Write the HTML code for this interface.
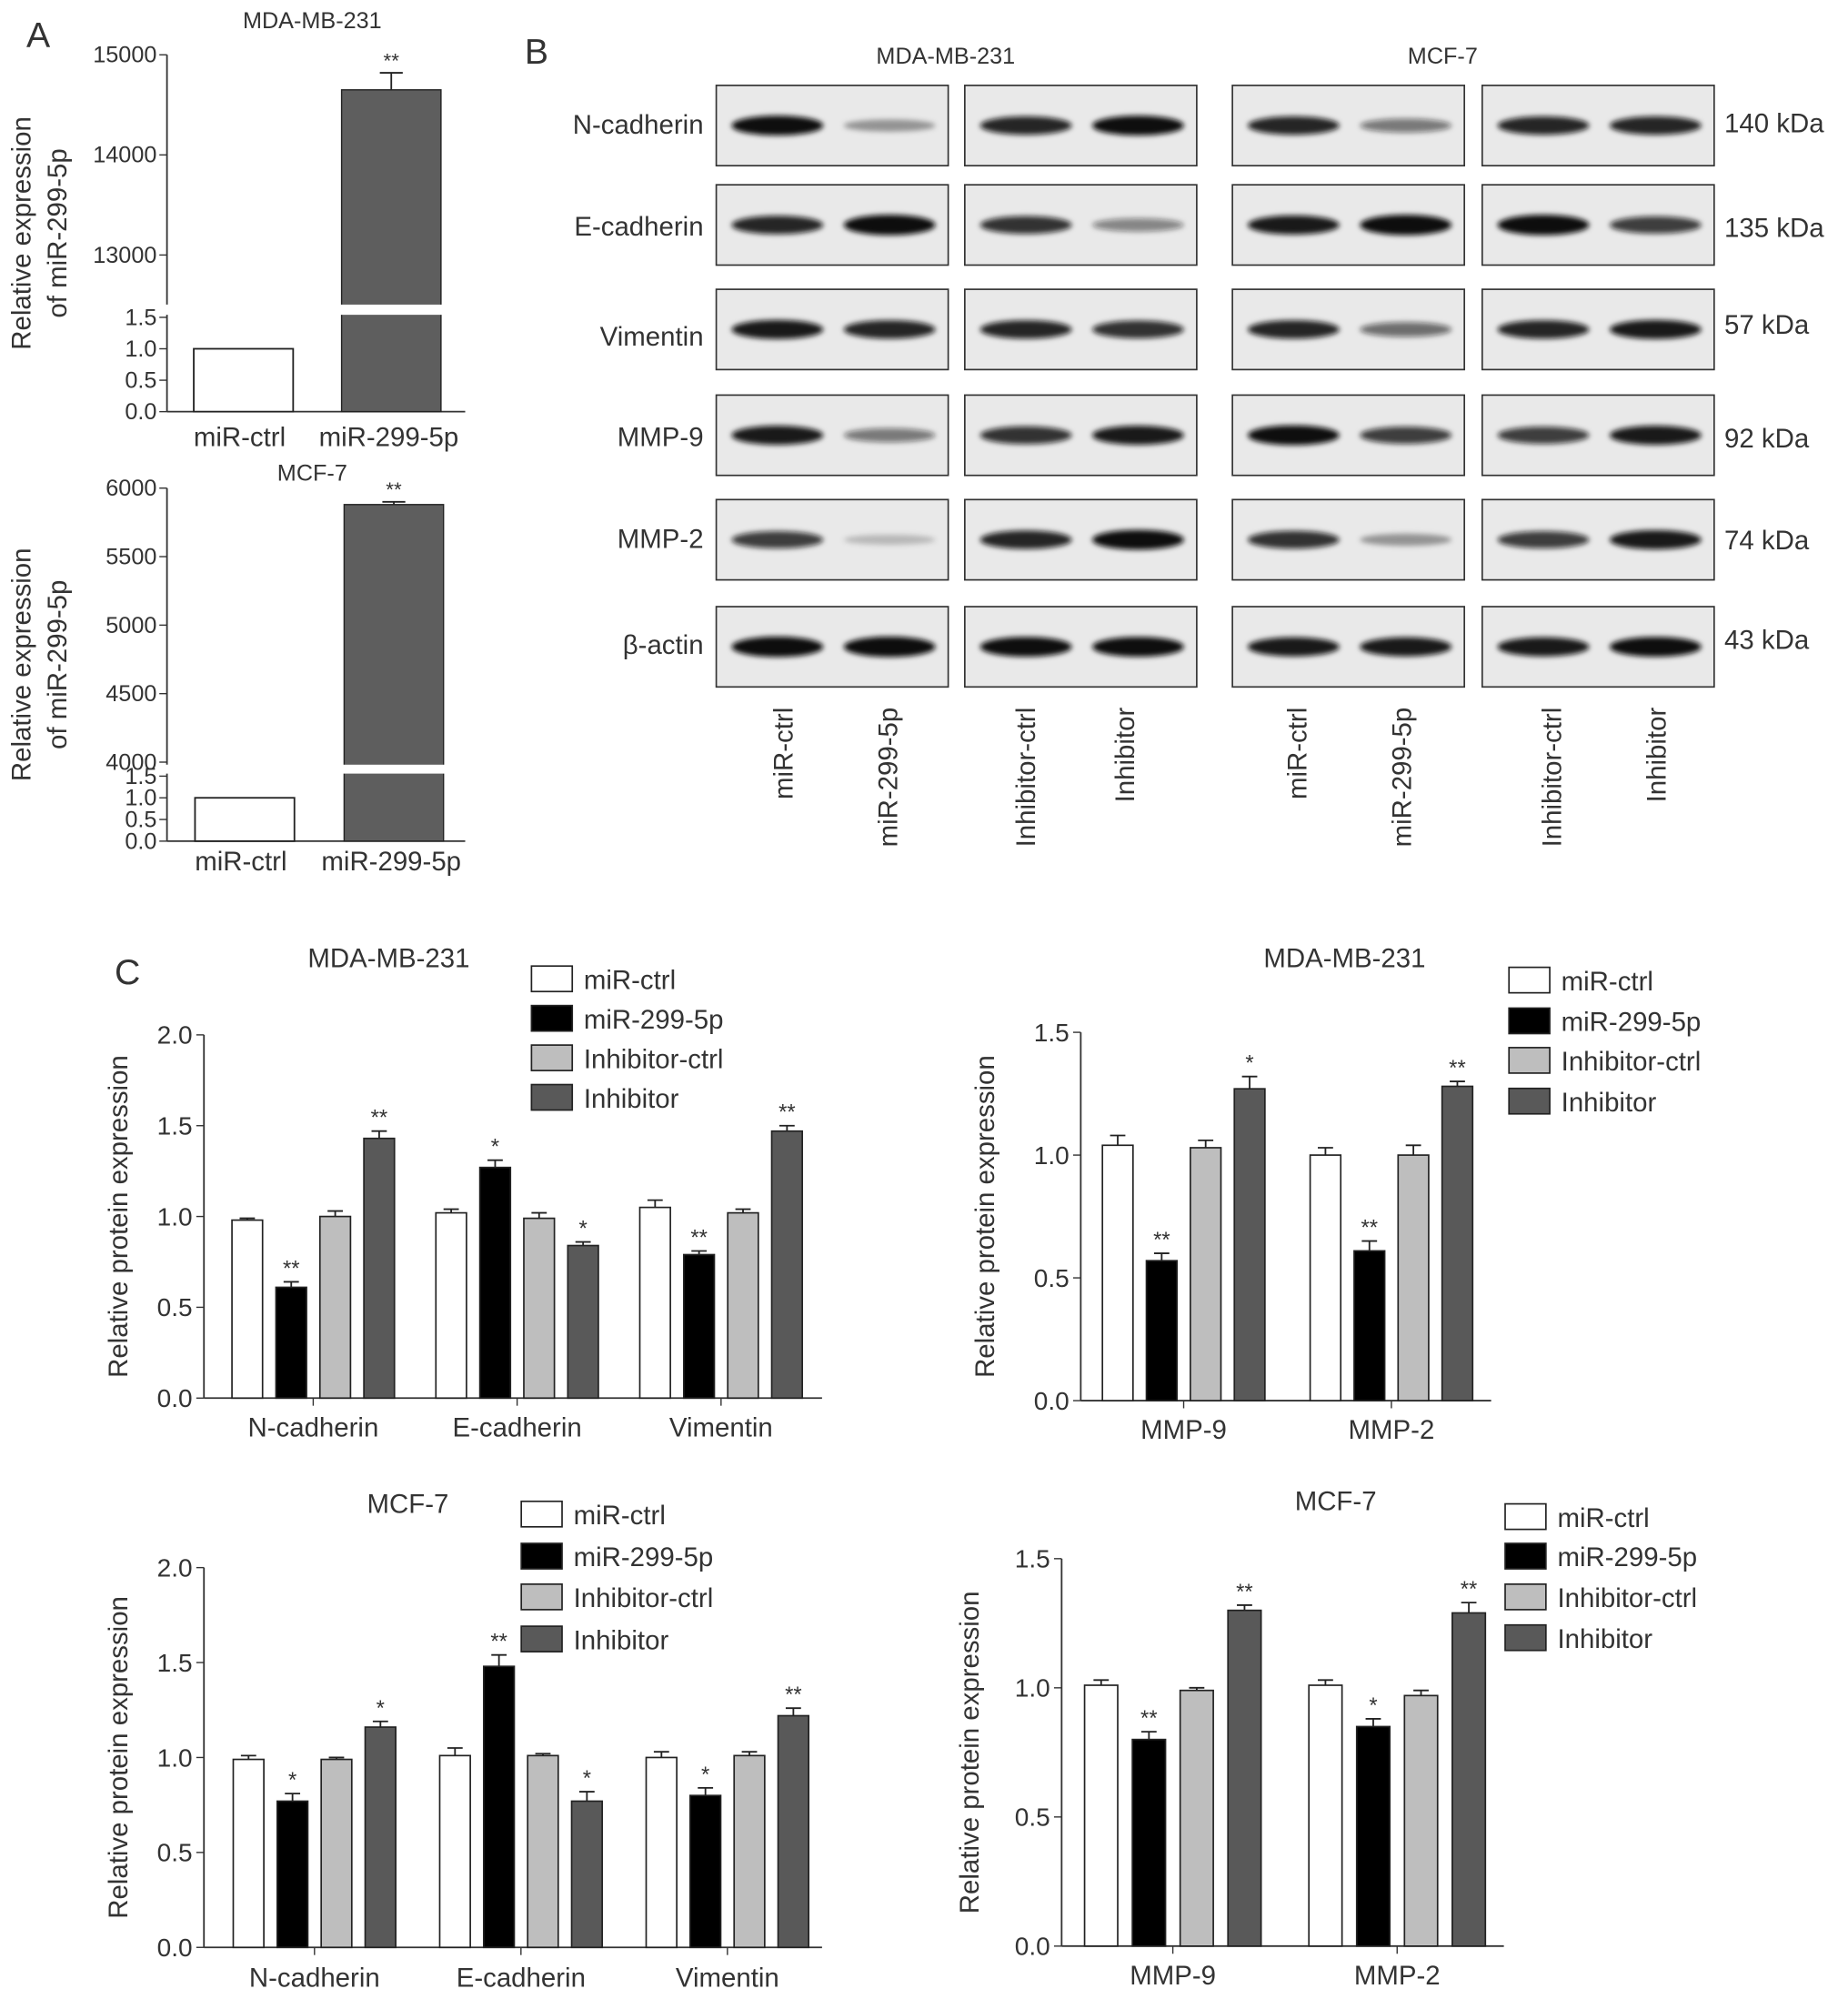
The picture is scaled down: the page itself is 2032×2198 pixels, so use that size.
<!DOCTYPE html>
<html><head><meta charset="utf-8"><style>
html,body{margin:0;padding:0;background:#fff}
svg{display:block}
text{font-family:"Liberation Sans",sans-serif;fill:#333}
</style></head><body>
<svg id="fig" width="2032" height="2198" viewBox="0 0 1450 1568.5" xmlns="http://www.w3.org/2000/svg">
<defs><filter id="blur" x="-20%" y="-50%" width="140%" height="200%"><feGaussianBlur stdDeviation="2"/></filter></defs>
<g id="root"></g>
</svg>
<script>
// ---------- Panel A data ----------
const aCats = ["miR-ctrl","miR-299-5p"];
const aTopVals = [1.0, 14650];
const aTopErr = [0, 170];
const aBotVals = [1.0, 5880];
const aBotErr = [0, 20];
const aTopTicksHi = [13000,14000,15000];
const aBotTicksHi = [4000,4500,5000,5500,6000];
const aTicksLo = [0.0,0.5,1.0,1.5];

// ---------- Panel B data ----------
const blotRows = ["N-cadherin","E-cadherin","Vimentin","MMP-9","MMP-2","β-actin"];
const blotKda = ["140 kDa","135 kDa","57 kDa","92 kDa","74 kDa","43 kDa"];
const blotLanes = ["miR-ctrl","miR-299-5p","Inhibitor-ctrl","Inhibitor","miR-ctrl","miR-299-5p","Inhibitor-ctrl","Inhibitor"];
const bandN = [0.95,0.35,0.85,0.95,0.85,0.5,0.85,0.85];
const bandE = [0.85,1.0,0.8,0.45,0.9,1.0,1.0,0.75];
const bandV = [0.9,0.85,0.85,0.8,0.85,0.55,0.85,0.9];
const bandM9 = [0.9,0.5,0.8,0.9,0.95,0.75,0.75,0.9];
const bandM2 = [0.75,0.2,0.85,0.95,0.8,0.35,0.75,0.9];
const bandB = [1.0,1.0,0.95,0.95,0.9,0.9,0.9,0.95];

// ---------- Panel C data ----------
const seriesNames = ["miR-ctrl","miR-299-5p","Inhibitor-ctrl","Inhibitor"];
const c1Cats = ["N-cadherin","E-cadherin","Vimentin"];
const c1Vals = [[0.98,0.61,1.00,1.43],[1.02,1.27,0.99,0.84],[1.05,0.79,1.02,1.47]];
const c1Err = [[0.01,0.03,0.03,0.04],[0.02,0.04,0.03,0.02],[0.04,0.02,0.02,0.03]];
const c1Sig = [["","**","","**"],["","*","","*"],["","**","","**"]];
const c2Cats = ["MMP-9","MMP-2"];
const c2Vals = [[1.04,0.57,1.03,1.27],[1.00,0.61,1.00,1.28]];
const c2Err = [[0.04,0.03,0.03,0.05],[0.03,0.04,0.04,0.02]];
const c2Sig = [["","**","","*"],["","**","","**"]];
const c3Cats = ["N-cadherin","E-cadherin","Vimentin"];
const c3Vals = [[0.99,0.77,0.99,1.16],[1.01,1.48,1.01,0.77],[1.00,0.80,1.01,1.22]];
const c3Err = [[0.02,0.04,0.01,0.03],[0.04,0.06,0.01,0.05],[0.03,0.04,0.02,0.04]];
const c3Sig = [["","*","","*"],["","**","","*"],["","*","","**"]];
const c4Cats = ["MMP-9","MMP-2"];
const c4Vals = [[1.01,0.80,0.99,1.30],[1.01,0.85,0.97,1.29]];
const c4Err = [[0.02,0.03,0.01,0.02],[0.02,0.03,0.02,0.04]];
const c4Sig = [["","**","","**"],["","*","","**"]];
const cTicks2 = [0.0,0.5,1.0,1.5,2.0];
const cTicks15 = [0.0,0.5,1.0,1.5];

const NS="http://www.w3.org/2000/svg";
const root=document.getElementById('root');
function el(tag,attrs,parent,txt){const e=document.createElementNS(NS,tag);for(const k in attrs)e.setAttribute(k,attrs[k]);if(txt!==undefined)e.textContent=txt;(parent||root).appendChild(e);return e;}
function grp(name){const g=el('g',{});return g;}
function txt(g,x,y,s,size,anchor,name,rot){const t=el('text',{x:x,y:y,'font-size':size,'text-anchor':anchor||'middle'},g,s);if(rot)t.setAttribute('transform','rotate(-90 '+x+' '+y+')');


return t;}
const fills=["#ffffff","#000000","#bebebe","#595959"];

// ---------- Panel A ----------
function panelA(g,title,titleY,hiTicks,hiY0,hiY1,hiMin,hiMax,loY0,loY1,vals,err,labelY,bx){
  txt(g,245,titleY,title,18,'middle','panel-a-title');
  const ax=131;
  const yHi=v=>hiY0+(hiMax-v)/(hiMax-hiMin)*(hiY1-hiY0);
  const yLo=v=>loY1-(v/1.5)*(loY1-loY0);
  el('line',{x1:ax,y1:hiY0,x2:ax,y2:hiY1+2,stroke:'#333','stroke-width':1.3},g);
  el('line',{x1:ax,y1:loY0-2,x2:ax,y2:loY1,stroke:'#333','stroke-width':1.3},g);
  hiTicks.forEach(t=>{const y=yHi(t);el('line',{x1:ax-6,y1:y,x2:ax,y2:y,stroke:'#333'},g);txt(g,ax-8,y+6,String(t),18,'end','y-tick-label');});
  aTicksLo.forEach(t=>{const y=yLo(t);el('line',{x1:ax-6,y1:y,x2:ax,y2:y,stroke:'#333'},g);txt(g,ax-8,y+6,t.toFixed(1),18,'end','y-tick-label');});
  el('line',{x1:ax,y1:loY1,x2:365,y2:loY1,stroke:'#333','stroke-width':1.3},g);
  const b0=el('rect',{x:bx[0],y:yLo(vals[0]),width:78,height:loY1-yLo(vals[0]),fill:'#fff',stroke:'#222','stroke-width':1.3},g);
  
  
  const yt=yHi(vals[1]);
  const b1=el('rect',{x:bx[1],y:yt,width:78,height:loY1-yt,fill:'#5e5e5e',stroke:'#222','stroke-width':1},g);
  
  
  el('rect',{x:bx[1]-2,y:hiY1+2,width:82,height:loY0-hiY1-4,fill:'#fff'},g);
  const ye=yHi(vals[1]+err[1]);
  el('line',{x1:bx[1]+39,y1:yt,x2:bx[1]+39,y2:ye,stroke:'#222','stroke-width':1.3},g);
  el('line',{x1:bx[1]+30,y1:ye,x2:bx[1]+48,y2:ye,stroke:'#222','stroke-width':1.3},g);
  txt(g,bx[1]+39,ye-4,'**',16,'middle','significance-marker');
  txt(g,bx[0]+36,labelY,aCats[0],21,'middle','x-label');
  txt(g,bx[1]+37,labelY,aCats[1],21,'middle','x-label');
  const mid=(hiY0+loY1)/2;
  txt(g,24,mid,'Relative expression',21,'middle','y-axis-title',true);
  txt(g,52,mid,'of miR-299-5p',21,'middle','y-axis-title',true);
}
const gA=grp('panel-a');
txt(gA,30,37,'A',28,'middle','panel-a-letter');
panelA(gA,'MDA-MB-231',22,aTopTicksHi,43,237,12530,15000,249,323,aTopVals,aTopErr,350,[152,268]);
const gA2=grp('panel-a-mcf7');
panelA(gA2,'MCF-7',377,aBotTicksHi,383,598,4000,6000,609,660,aBotVals,aBotErr,683,[153,270]);

// ---------- Panel B ----------
const gB=grp('panel-b-western-blot');
txt(gB,421,50,'B',28,'middle','panel-b-letter');
txt(gB,742,50,'MDA-MB-231',18,'middle','blot-title-mda');
txt(gB,1132,50,'MCF-7',18,'middle','blot-title-mcf7');
const boxX=[562,757,967,1163], boxW=182;
const rowY=[67,145,227,310,392,476], boxH=63;
const rowLabelY=[98,178,264,343,423,506], kdaY=[97,179,255,344,424,502];
const bandRows=[bandN,bandE,bandV,bandM9,bandM2,bandB];
blotRows.forEach((r,ri)=>{
  txt(gB,552,rowLabelY[ri]+7,r,21,'end','blot-row-label');
  txt(gB,1353,kdaY[ri]+7,blotKda[ri],21,'start','kda-label');
  boxX.forEach((bx,bi)=>{
    const b=el('rect',{x:bx,y:rowY[ri],width:boxW,height:boxH,fill:'#e9e9e9',stroke:'#333','stroke-width':1.2},gB);
    
    
    [0,1].forEach(li=>{
      const v=bandRows[ri][bi*2+li];
      const cx=bx+48+li*88, cy=rowY[ri]+boxH/2;
      const band=el('ellipse',{cx:cx,cy:cy,rx:36,ry:3+v*5,fill:'#111','fill-opacity':Math.min(1,v*1.05),filter:'url(#blur)'},gB);
      
      
    });
  });
});
const laneX=[615,697,805,883,1018,1100,1218,1300];
blotLanes.forEach((l,i)=>txt(gB,laneX[i]+7,555,l,21,'end','lane-label',true));

// ---------- Panel C ----------
function barChart(o){
  const g=grp(o.name);
  const y=v=>o.y0-v/o.max*(o.y0-o.yTop);
  txt(g,o.titleX,o.titleY,o.title,21,'middle','chart-title');
  el('line',{x1:o.ax,y1:o.yTop,x2:o.ax,y2:o.y0,stroke:'#333','stroke-width':1.3},g);
  el('line',{x1:o.ax,y1:o.y0,x2:o.axEnd,y2:o.y0,stroke:'#333','stroke-width':1.3},g);
  o.ticks.forEach(t=>{const yy=y(t);el('line',{x1:o.ax-6,y1:yy,x2:o.ax,y2:yy,stroke:'#333'},g);txt(g,o.ax-9,yy+7,t.toFixed(1),20,'end','y-tick-label');});
  o.cats.forEach((c,ci)=>{
    const gx=o.gx0+ci*o.gstep;
    o.vals[ci].forEach((v,si)=>{
      const x=gx+si*o.bstep;
      const r=el('rect',{x:x,y:y(v),width:o.bw,height:o.y0-y(v),fill:fills[si],stroke:'#222','stroke-width':1.2},g);
      
      
      const ye=y(v+o.err[ci][si]), cx=x+o.bw/2;
      el('line',{x1:cx,y1:y(v),x2:cx,y2:ye,stroke:'#222','stroke-width':1.3},g);
      el('line',{x1:cx-6,y1:ye,x2:cx+6,y2:ye,stroke:'#222','stroke-width':1.3},g);
      if(o.sig[ci][si])txt(g,cx,ye-5,o.sig[ci][si],17,'middle','significance-marker');
    });
    const cx=gx+(3*o.bstep+o.bw)/2;
    el('line',{x1:cx,y1:o.y0,x2:cx,y2:o.y0+6,stroke:'#333'},g);
    txt(g,cx,o.labY,c,21,'middle','x-category-label');
  });
  txt(g,o.ylx,(o.yTop+o.y0)/2,'Relative protein expression',21,'middle','y-axis-title',true);
  o.legY.forEach((ly,i)=>{
    const r=el('rect',{x:o.legX,y:ly-10,width:32,height:20,fill:fills[i],stroke:'#222','stroke-width':1.2},g);
    
    
    txt(g,o.legX+41,ly+8,seriesNames[i],21,'start','legend-entry');
  });
}
const gC=grp('panel-c');
txt(gC,100,772,'C',28,'middle','panel-c-letter');
barChart({name:'chart-c1-mda-emt',title:'MDA-MB-231',titleX:305,titleY:759,ax:160,axEnd:645,yTop:812,y0:1097,max:2.0,ticks:cTicks2,
  cats:c1Cats,vals:c1Vals,err:c1Err,sig:c1Sig,gx0:182,gstep:160,bstep:34.5,bw:24,labY:1127,ylx:100,legX:417,legY:[768,799,830,861]});
barChart({name:'chart-c2-mda-mmp',title:'MDA-MB-231',titleX:1055,titleY:759,ax:848,axEnd:1170,yTop:810,y0:1099,max:1.5,ticks:cTicks15,
  cats:c2Cats,vals:c2Vals,err:c2Err,sig:c2Sig,gx0:865,gstep:163,bstep:34.5,bw:24,labY:1129,ylx:780,legX:1184,legY:[769,801,832,864]});
barChart({name:'chart-c3-mcf7-emt',title:'MCF-7',titleX:320,titleY:1187,ax:160,axEnd:645,yTop:1230,y0:1528,max:2.0,ticks:cTicks2,
  cats:c3Cats,vals:c3Vals,err:c3Err,sig:c3Sig,gx0:183,gstep:162,bstep:34.5,bw:24,labY:1559,ylx:100,legX:409,legY:[1188,1221,1253,1286]});
barChart({name:'chart-c4-mcf7-mmp',title:'MCF-7',titleX:1048,titleY:1185,ax:833,axEnd:1180,yTop:1223,y0:1527,max:1.5,ticks:cTicks15,
  cats:c4Cats,vals:c4Vals,err:c4Err,sig:c4Sig,gx0:851,gstep:176,bstep:37.5,bw:26,labY:1557,ylx:768,legX:1181,legY:[1190,1221,1253,1285]});
</script>
</body></html>
